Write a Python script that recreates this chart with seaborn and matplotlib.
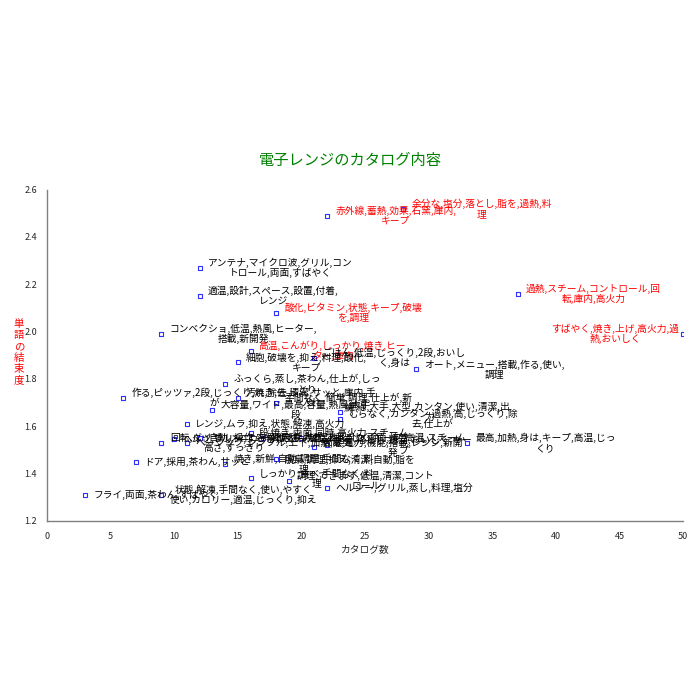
import pandas as pd
import seaborn as sns
import matplotlib
matplotlib.use("Agg")
import matplotlib.pyplot as plt

# catalog count vs. word cohesion for each label group
counts = [22, 28, 37, 50, 12, 12, 18, 9, 16, 15, 21, 29, 14, 6, 15, 18, 13, 23,
          11, 23, 9, 10, 11, 12, 16, 17, 20, 21, 22, 33, 7, 14, 18, 16, 19, 22, 3, 9]
cohesion = [2.49, 2.52, 2.16, 1.99, 2.27, 2.15, 2.08, 1.99, 1.92, 1.87, 1.89, 1.84,
            1.78, 1.72, 1.72, 1.70, 1.67, 1.66, 1.61, 1.63, 1.53, 1.545, 1.53, 1.55,
            1.57, 1.55, 1.55, 1.51, 1.52, 1.53, 1.45, 1.44, 1.46, 1.38, 1.37, 1.34,
            1.31, 1.31]
words = [
    "赤外線,蓄熱,効果,石窯,庫内,\nキープ",
    "余分な,塩分,落とし,脂を,過熱,料\n理",
    "過熱,スチーム,コントロール,回\n転,庫内,高火力",
    "すばやく,焼き,上げ,高火力,過\n熱,おいしく",
    "アンテナ,マイクロ波,グリル,コン\nトロール,両面,すばやく",
    "適温,設計,スペース,設置,付着,\nレンジ",
    "酸化,ビタミン,状態,キープ,破壊\nを,調理",
    "コンベクショ,低温,熱風,ヒーター,\n搭載,新開発",
    "高温,こんがり,しっかり,焼き,ヒー\nター,庫内",
    "細胞,破壊を,抑え,料理,酸化,\nキープ",
    "ごはん,低温,じっくり,2段,おいし\nく,身は",
    "オート,メニュー,搭載,作る,使い,\n調理",
    "ふっくら,蒸し,茶わん,仕上が,しっ\nとり",
    "作る,ピッツァ,2段,じっくり,焼き,仕上\nが",
    "汚れ,除去,清潔,サッと,庫内,手\n入れ",
    "手間なく,簡単,調理,仕上が,新\n鮮",
    "大容量,ワイド,最高,容量,熱風,大手\n段",
    "無線,大手,大型,カンタン,使い,清潔,出\n力",
    "レンジ,ムラ,抑え,状態,解凍,高火力",
    "むらなく,カンタン,過熱,高,じっくり,除\n去,仕上が",
    "回転,ダイヤル,操作,容易,便利\n高さ,すっきり",
    "ヘルツ,フリー,すっきり,コンパクト",
    "ベーシック,シンプル,上下,加熱,蒸気",
    "自動,メニュー,くぼみ,焼き,上下",
    "段,焼き,両面,同時,高火力,スチーム",
    "庫内,手入れ,すっきり,両面,焼き",
    "適温,おいしく,キープ,高温,スチーム",
    "節電,電力,機能,搭載,レンジ,新開\n発",
    "脂を,落とし,適温,おいしく,キー\nプ",
    "最高,加熱,身は,キープ,高温,じっ\nくり",
    "ドア,採用,茶わん,サッと",
    "焼き,新鮮,自動,調理,手間なく,料\n理",
    "脱臭,調理,抑え,清潔,自動,脂を",
    "しっかり,食べ,手間なく,料\n理",
    "調理,できます,低温,清潔,コント\nロール",
    "ヘルシー,グリル,蒸し,料理,塩分",
    "フライ,両面,茶わん,すばやく",
    "状態,解凍,手間なく,使い,やすく\n使い,カロリー,適温,じっくり,抑え",
]
highlight = [1, 1, 1, 1, 0, 0, 1, 0, 1, 0, 0, 0, 0, 0, 0, 0, 0, 0, 0, 0, 0, 0,
             0, 0, 0, 0, 0, 0, 0, 0, 0, 0, 0, 0, 0, 0, 0, 0]

df = pd.DataFrame({"count": counts, "cohesion": cohesion, "words": words,
                   "hot": highlight})

sns.set_style("white")
plt.rcParams["font.family"] = ["Noto Sans CJK JP", "DejaVu Sans"]

fig = plt.figure(figsize=(7, 7), dpi=100)
ax = fig.add_axes([0.067, 0.256, 0.909, 0.473])

sns.scatterplot(data=df, x="count", y="cohesion", marker="s", s=12,
                facecolor="white", edgecolor="#3030ff", linewidth=0.8, ax=ax,
                zorder=1)

for _, row in df.iterrows():
    color = "#ff0000" if row["hot"] else "#000000"
    right_edge = row["count"] > 45
    ax.annotate(row["words"], (row["count"], row["cohesion"]),
                xytext=(-3 if right_edge else 6, 0), textcoords="offset points",
                ha="right" if right_edge else "left", va="center",
                multialignment="center", fontsize=7, color=color,
                linespacing=1.0, zorder=2)

ax.set_xlim(0, 50)
ax.set_ylim(1.2, 2.6)
ax.set_xticks(range(0, 51, 5))
ax.set_yticks([1.2, 1.4, 1.6, 1.8, 2.0, 2.2, 2.4, 2.6])
ax.set_yticklabels(["1.2", "1.4", "1.6", "1.8", "2.0", "2.2", "2.4", "2.6"])
ax.tick_params(axis="both", labelsize=6.5, length=3, width=0.8,
               color="#808080", direction="out", pad=4)
ax.tick_params(axis="x", length=2, pad=6)
for side in ["top", "right"]:
    ax.spines[side].set_visible(False)
for side in ["left", "bottom"]:
    ax.spines[side].set_color("#808080")
    ax.spines[side].set_linewidth(1.0)

ax.set_xlabel("カタログ数", fontsize=7, labelpad=3)
ax.set_ylabel("")
fig.text(0.027, 0.497, "\n".join("単語の結束度"), color="#ff0000",
         fontsize=7.5, ha="center", va="center", linespacing=1.15)
fig.text(0.5, 0.771, "電子レンジのカタログ内容", color="#008000",
         fontsize=11, ha="center", va="center")

fig.savefig("out.png", dpi=100, facecolor="white")
